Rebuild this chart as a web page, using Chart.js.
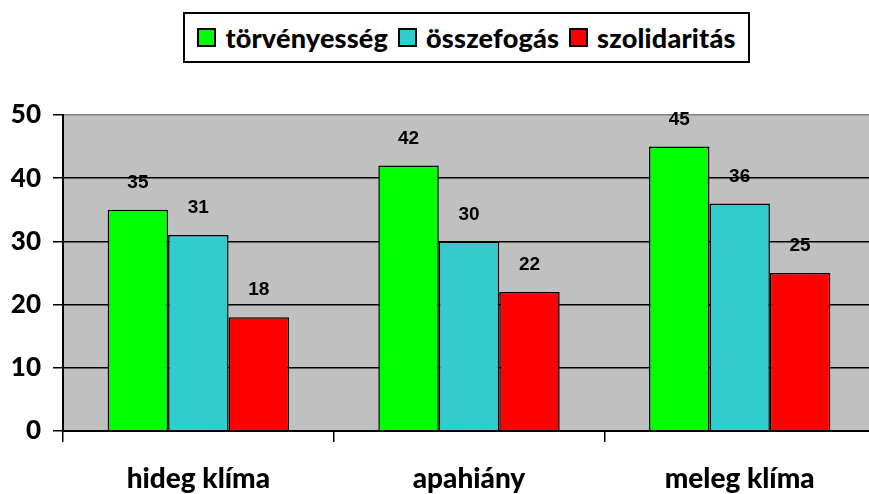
<!DOCTYPE html>
<html>
<head>
<meta charset="utf-8">
<script src="https://cdn.jsdelivr.net/npm/chart.js@4/dist/chart.umd.min.js"></script>
<style>
  html, body { margin: 0; padding: 0; background: #fff; overflow: hidden; }
  #wrap { position: relative; width: 875px; height: 494px; }
  #legend {
    position: absolute; left: 183px; top: 12px; width: 563px; height: 47px;
    border: 2px solid #000; background: #fff;
    display: flex; align-items: center; justify-content: center;
    font-family: Lato, sans-serif; font-weight: 900; font-size: 27px; color: #000;
    letter-spacing: 0.2px;
  }
  #legend .item { display: flex; align-items: center; margin: 0 5px; }
  #legend .box { width: 15px; height: 15px; border: 2px solid #000; margin-right: 9px; }
</style>
</head>
<body>
<div id="wrap">
  <canvas id="chart" width="875" height="494"></canvas>
  <div id="legend"></div>
</div>
<script>
const categories = ["hideg klíma", "apahiány", "meleg klíma"];
const seriesNames = ["törvényesség", "összefogás", "szolidaritás"];
const torvenyesseg = [35, 42, 45];
const osszefogas = [31, 30, 36];
const szolidaritas = [18, 22, 25];
const yTicks = [0, 10, 20, 30, 40, 50];
const colors = ["#00FF00", "#33CCCC", "#FF0000"];

const seriesValues = [torvenyesseg, osszefogas, szolidaritas];

// legend (HTML, the original sits off-centre)
const legend = document.getElementById("legend");
seriesNames.forEach((name, i) => {
  const item = document.createElement("div");
  item.className = "item";
  const box = document.createElement("span");
  box.className = "box";
  box.style.background = colors[i];
  const txt = document.createElement("span");
  txt.textContent = name;
  item.appendChild(box);
  item.appendChild(txt);
  legend.appendChild(item);
});

// grey plot background
const plotBackground = {
  id: "plotBackground",
  beforeDraw(chart) {
    const { ctx, chartArea } = chart;
    ctx.save();
    ctx.fillStyle = "#C0C0C0";
    ctx.fillRect(chartArea.left, chartArea.top, chartArea.right - chartArea.left, chartArea.bottom - chartArea.top);
    ctx.restore();
  }
};

// value labels above bars
const valueLabels = {
  id: "valueLabels",
  afterDatasetsDraw(chart) {
    const ctx = chart.ctx;
    ctx.save();
    ctx.font = "bold 19px 'Liberation Sans', Arial, sans-serif";
    ctx.fillStyle = "#000";
    ctx.textAlign = "center";
    ctx.textBaseline = "middle";
    chart.data.datasets.forEach((ds, i) => {
      chart.getDatasetMeta(i).data.forEach((bar, j) => {
        ctx.fillText(ds.data[j], bar.x, bar.y - 27);
      });
    });
    ctx.restore();
  }
};

new Chart(document.getElementById("chart"), {
  type: "bar",
  data: {
    labels: categories,
    datasets: seriesNames.map((name, i) => ({
      label: name,
      data: seriesValues[i],
      backgroundColor: colors[i],
      borderColor: "#000",
      borderWidth: 1.5,
      categoryPercentage: 0.67,
      barPercentage: 1
    }))
  },
  options: {
    responsive: false,
    animation: false,
    layout: { padding: { top: 115, right: 0, left: 0, bottom: 0 } },
    plugins: {
      legend: { display: false },
      tooltip: { enabled: false }
    },
    scales: {
      x: {
        grid: {
          offset: true,
          drawOnChartArea: false,
          color: "#000",
          lineWidth: 1.5,
          tickLength: 11
        },
        border: { color: "#000", width: 2 },
        ticks: {
          color: "#000",
          padding: 20,
          font: { family: "Lato", weight: "900", size: 28 }
        },
        afterFit(axis) { axis.height = 63; }
      },
      y: {
        min: 0,
        max: 50,
        afterBuildTicks(axis) { axis.ticks = yTicks.map(v => ({ value: v })); },
        grid: {
          color: ctx => ctx.tick && ctx.tick.value === 50 ? "#808080" : "#000",
          lineWidth: 1.5,
          tickLength: 10,
          tickColor: "#000"
        },
        border: { color: "#000", width: 2 },
        ticks: {
          color: "#000",
          padding: 12,
          font: { family: "Lato", weight: "900", size: 26 }
        },
        afterFit(axis) { axis.width = 63; }
      }
    }
  },
  plugins: [plotBackground, valueLabels]
});
</script>
</body>
</html>
